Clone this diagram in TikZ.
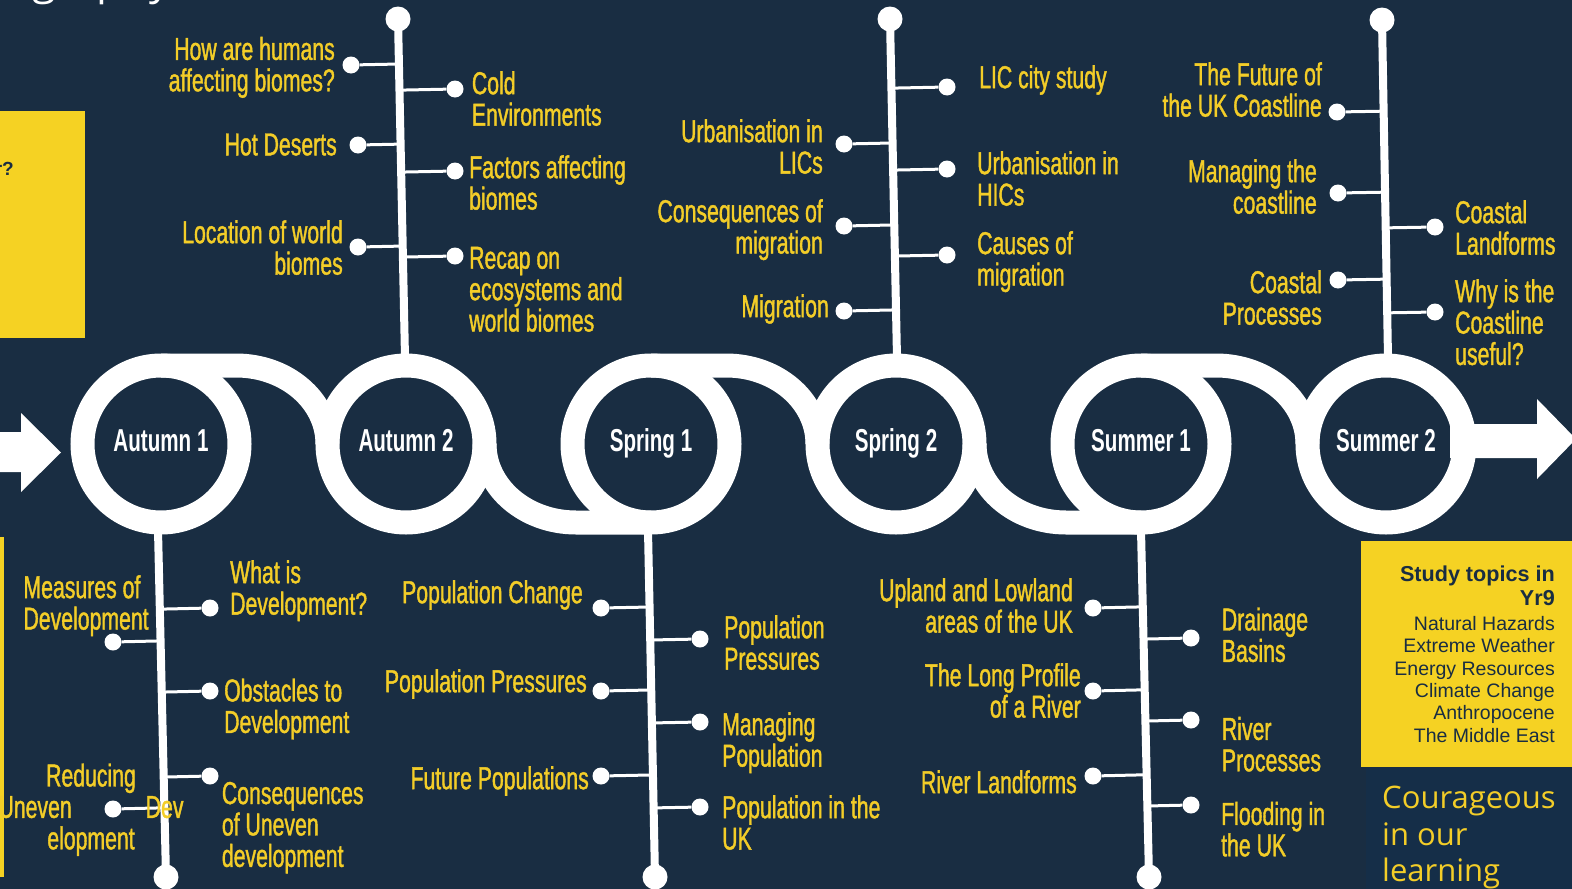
\documentclass[tikz,border=0pt]{standalone}
\usepackage{fontspec}
\setmainfont{Liberation Sans}
\newfontfamily\lab[FakeStretch=0.67,FakeBold=1.2]{Liberation Sans}
\newfontfamily\labb[FakeStretch=0.65]{Liberation Sans}
\newfontfamily\osans{Open Sans}
\usetikzlibrary{calc}
\definecolor{bg}{HTML}{192D42}
\definecolor{ylw}{HTML}{F3CD28}
\definecolor{boxy}{HTML}{F5D223}
\definecolor{bgtwo}{HTML}{152E48}
\begin{document}
\begin{tikzpicture}[x=1pt,y=-1pt,
  lbl/.style={font=\lab\fontsize{31.7}{31.4}\selectfont, text=ylw, inner sep=0pt},
  lblL/.style={lbl, align=right, anchor=north east},
  lblR/.style={lbl, align=left, anchor=north west},
  season/.style={font=\labb\bfseries\fontsize{31.7}{32}\selectfont, text=white, inner sep=0pt, anchor=base},
  ringst/.style={circle, draw=white, line width=24pt, minimum size=157pt, inner sep=0pt},
  bnd/.style={draw=white, line width=24pt},
  stm/.style={draw=white, line width=8pt},
  tk/.style={draw=white, line width=3pt},
  tdot/.style={circle, fill=white, inner sep=0pt, minimum size=17pt},
  bigdot/.style={circle, fill=white, inner sep=0pt, minimum size=25pt},
]
\fill[bg] (0,0) rectangle (1572,889);
\useasboundingbox (0,0) rectangle (1572,889);
\clip (0,0) rectangle (1572,889);

% title fragment
\node[anchor=base east, inner sep=0pt, text=white, font=\osans\fontsize{43}{43}\selectfont] (title) at (171,-6) {Geography};

% boxes
\fill[boxy] (0,111) rectangle (85,337.7);
\node[anchor=north east, inner sep=0pt, text=bg, font=\bfseries\fontsize{19}{22}\selectfont] (q) at (14,162) {r?};
\fill[boxy] (0,537) rectangle (4,877);
\fill[boxy] (1361,541) rectangle (1572,767);
\fill[bgtwo] (1366,768) rectangle (1572,889);

% arrows
\fill[white] (0,432) -- (21,432) -- (21,413) -- (61,452.5) -- (21,492) -- (21,472) -- (0,472) -- cycle;
\fill[white] (1450,424) -- (1537,424) -- (1537,399) -- (1576,439) -- (1537,479) -- (1537,458) -- (1450,458) -- cycle;

% serpentine bands
\foreach \c in {161,651,1141}{
  \draw[bnd] (\c,365.5) -- ({\c+75},365.5) .. controls ({\c+125.5},365.5) and ({\c+166.5},400.6) .. ({\c+166.5},444);
}
\foreach \c in {406,896}{
  \draw[bnd] ({\c+78.5},444) .. controls ({\c+78.5},487.4) and ({\c+119.5},522.5) .. ({\c+170},522.5) -- ({\c+245},522.5);
}

% rings
\node[ringst] (r1) at (161,444) {};
\node[ringst] (r2) at (406,444) {};
\node[ringst] (r3) at (651,444) {};
\node[ringst] (r4) at (896,444) {};
\node[ringst] (r5) at (1141,444) {};
\node[ringst] (r6) at (1386,444) {};
\node[season] (t1) at (161,451) {Autumn 1};
\node[season] (t2) at (406,451) {Autumn 2};
\node[season] (t3) at (651,451) {Spring 1};
\node[season] (t4) at (896,451) {Spring 2};
\node[season] (t5) at (1141,451) {Summer 1};
\node[season] (t6) at (1386,451) {Summer 2};

% ---------- stems ----------
\coordinate (a2t) at (398,19);  \coordinate (a2b) at (405,358);
\coordinate (s2t) at (890,19);  \coordinate (s2b) at (897,358);
\coordinate (u2t) at (1382,20); \coordinate (u2b) at (1388,358);
\coordinate (a1t) at (158,530); \coordinate (a1b) at (166,877);
\coordinate (s1t) at (648,530); \coordinate (s1b) at (655,877);
\coordinate (u1t) at (1141,530);\coordinate (u1b) at (1149,877);
\foreach \s in {a2,s2,u2,a1,s1,u1}{
  \draw[stm] (\s t) -- (\s b);
}
\node[bigdot] (a2d) at (a2t) {};
\node[bigdot] (s2d) at (s2t) {};
\node[bigdot] (u2d) at (u2t) {};
\node[bigdot] (a1d) at (a1b) {};
\node[bigdot] (s1d) at (s1b) {};
\node[bigdot] (u1d) at (u1b) {};

% dots
\node[tdot] (ha) at (351,65) {};
\node[tdot] (hb) at (358,145) {};
\node[tdot] (hc) at (358,247) {};
\node[tdot] (hd) at (455,89) {};
\node[tdot] (he) at (455,171) {};
\node[tdot] (hf) at (455,256) {};
\foreach \d in {ha,hb,hc,hd,he,hf}{ \draw[tk] (\d) -- ($(a2t)!(\d)!(a2b)$); }

\node[tdot] (sa) at (844,144) {};
\node[tdot] (sb) at (844,226) {};
\node[tdot] (sc) at (844,311) {};
\node[tdot] (sd) at (947,87) {};
\node[tdot] (se) at (947,169) {};
\node[tdot] (sf) at (947,255) {};
\foreach \d in {sa,sb,sc,sd,se,sf}{ \draw[tk] (\d) -- ($(s2t)!(\d)!(s2b)$); }

\node[tdot] (ua) at (1337,112) {};
\node[tdot] (ub) at (1338,193) {};
\node[tdot] (uc) at (1338,280) {};
\node[tdot] (ud) at (1435,227) {};
\node[tdot] (ue) at (1435,312) {};
\foreach \d in {ua,ub,uc,ud,ue}{ \draw[tk] (\d) -- ($(u2t)!(\d)!(u2b)$); }

\node[tdot] (aa) at (113,642) {};
\node[tdot] (ab) at (113,809) {};
\node[tdot] (ac) at (210,608) {};
\node[tdot] (ad) at (210,691) {};
\node[tdot] (ae) at (210,776) {};
\foreach \d in {aa,ab,ac,ad,ae}{ \draw[tk] (\d) -- ($(a1t)!(\d)!(a1b)$); }

\node[tdot] (pa) at (601,608) {};
\node[tdot] (pb) at (601,691) {};
\node[tdot] (pc) at (601,776) {};
\node[tdot] (pd) at (700,639) {};
\node[tdot] (pe) at (700,722) {};
\node[tdot] (pf) at (700,807) {};
\foreach \d in {pa,pb,pc,pd,pe,pf}{ \draw[tk] (\d) -- ($(s1t)!(\d)!(s1b)$); }

\node[tdot] (va) at (1093,608) {};
\node[tdot] (vb) at (1093,691) {};
\node[tdot] (vc) at (1093,776) {};
\node[tdot] (vd) at (1191,638) {};
\node[tdot] (ve) at (1191,720) {};
\node[tdot] (vf) at (1191,805) {};
\foreach \d in {va,vb,vc,vd,ve,vf}{ \draw[tk] (\d) -- ($(u1t)!(\d)!(u1b)$); }

% ---------- labels ----------
% Autumn 2
\node[lblL] (lha) at (335,36.7) {How are humans\\affecting biomes?};
\node[lblL] (lhb) at (337,133.3) {Hot Deserts};
\node[lblL] (lhc) at (343,220) {Location of world\\biomes};
\node[lblR] (lhd) at (471.7,71) {Cold\\Environments};
\node[lblR] (lhe) at (469,155) {Factors affecting\\biomes};
\node[lblR] (lhf) at (469,246.7) {Recap on\\ecosystems and\\world biomes};
% Spring 2
\node[lblL] (lsa) at (823,119) {Urbanisation in\\LICs};
\node[lblL] (lsb) at (823,199) {Consequences of\\migration};
\node[lblL] (lsc) at (829,294) {Migration};
\node[lblR] (lsd) at (979,65) {LIC city study};
\node[lblR] (lse) at (977,151) {Urbanisation in\\HICs};
\node[lblR] (lsf) at (977,231) {Causes of\\migration};
% Summer 2
\node[lblL] (lua) at (1322,62) {The Future of\\the UK Coastline};
\node[lblL] (lub) at (1317,159) {Managing the\\coastline};
\node[lblL] (luc) at (1322,270) {Coastal\\Processes};
\node[lblR] (lud) at (1455,200) {Coastal\\Landforms};
\node[lblR] (lue) at (1455,279) {Why is the\\Coastline\\useful?};
% Autumn 1
\node[lblR] (laa) at (23.3,575) {Measures of\\Development};
\node[lbl, align=center, anchor=north] (lab) at (91,763.3) {Reducing\\Uneven\hspace*{74pt}Dev\\elopment};
\node[lblR] (lac) at (230,560) {What is\\Development?};
\node[lblR] (lad) at (224,678.3) {Obstacles to\\Development};
\node[lblR] (lae) at (221.7,781.7) {Consequences\\of Uneven\\development};
% Spring 1
\node[lblL] (lpa) at (583,580) {Population Change};
\node[lblL] (lpb) at (587,669) {Population Pressures};
\node[lblL] (lpc) at (589,766) {Future Populations};
\node[lblR] (lpd) at (724,615) {Population\\Pressures};
\node[lblR] (lpe) at (722,712) {Managing\\Population};
\node[lblR] (lpf) at (722,795) {Population in the\\UK};
% Summer 1
\node[lblL] (lva) at (1073,578) {Upland and Lowland\\areas of the UK};
\node[lblL] (lvb) at (1081,663) {The Long Profile\\of a River};
\node[lblL] (lvc) at (1077,770) {River Landforms};
\node[lblR] (lvd) at (1221.7,607.3) {Drainage\\Basins};
\node[lblR] (lve) at (1221.7,716.7) {River\\Processes};
\node[lblR] (lvf) at (1221,801.7) {Flooding in\\the UK};

% Yr9 box text
\node[anchor=north east, align=right, inner sep=0pt, text=bg, font=\bfseries\fontsize{21.6}{24}\selectfont] (yt) at (1555,566) {Study topics in\\Yr9};
\node[anchor=north east, align=right, inner sep=0pt, text=bg, font=\fontsize{19.5}{22.4}\selectfont] (yl) at (1555,616) {Natural Hazards\\Extreme Weather\\Energy Resources\\Climate Change\\Anthropocene\\The Middle East};
% motto
\node[anchor=north west, align=left, inner sep=0pt, text=ylw, font=\osans\fontsize{31}{36.5}\selectfont] (motto) at (1382,786) {Courageous\\in our\\learning};
\end{tikzpicture}
\end{document}
